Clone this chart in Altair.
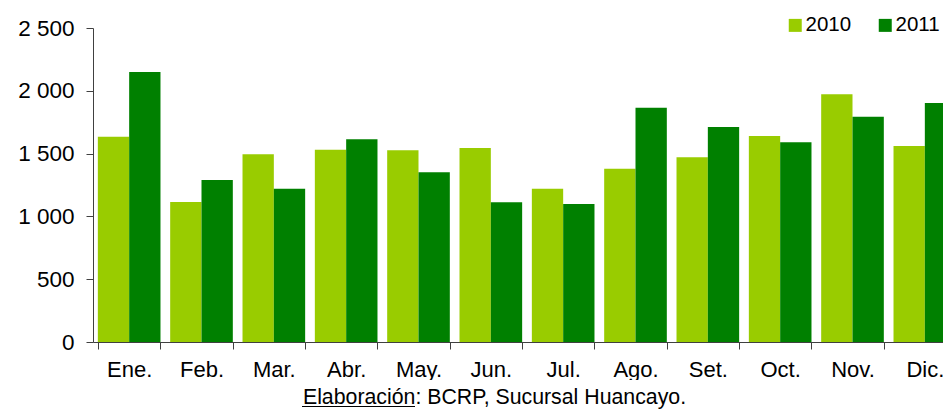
import altair as alt
import pandas as pd

months = ["Ene.", "Feb.", "Mar.", "Abr.", "May.", "Jun.", "Jul.", "Ago.", "Set.", "Oct.", "Nov.", "Dic."]
years = ["2010", "2011"]
v2010 = [1635, 1115, 1494, 1531, 1526, 1545, 1221, 1380, 1470, 1640, 1972, 1561]
v2011 = [2150, 1290, 1221, 1614, 1351, 1112, 1099, 1866, 1712, 1590, 1794, 1903]
colors = ["#99CC00", "#008000"]
y_ticks = [0, 500, 1000, 1500, 2000, 2500]
footnote_label = "Elaboración"
footnote_rest = ": BCRP, Sucursal Huancayo."

rows = []
for m, a, b in zip(months, v2010, v2011):
    rows.append({"Mes": m, "Año": years[0], "Valor": a})
    rows.append({"Mes": m, "Año": years[1], "Valor": b})
df = pd.DataFrame(rows)

FONT = "Liberation Sans"

bars = alt.Chart(df).mark_bar().encode(
    x=alt.X(
        "Mes:N",
        sort=months,
        scale=alt.Scale(range=[0, 868], paddingInner=0.134, paddingOuter=0.067),
        axis=alt.Axis(
            title=None, labelAngle=0, tickBand="extent", tickSize=7,
            labelFontSize=22, labelPadding=10, labelColor="#000000",
            domainColor="#404040", tickColor="#404040", labelFont=FONT,
            zindex=0,
        ),
    ),
    xOffset=alt.XOffset("Año:N", sort=years, scale=alt.Scale(paddingInner=0, paddingOuter=0)),
    y=alt.Y(
        "Valor:Q",
        scale=alt.Scale(domain=[0, 2500]),
        axis=alt.Axis(
            title=None, values=y_ticks, grid=False, tickSize=7,
            labelFontSize=22.5, labelPadding=12, labelColor="#000000",
            domainColor="#404040", tickColor="#404040", labelFont=FONT,
            labelExpr="replace(format(datum.value, ','), ',', ' ')",
            zindex=0,
        ),
    ),
    color=alt.Color(
        "Año:N",
        scale=alt.Scale(domain=years, range=colors),
        legend=alt.Legend(
            title=None, orient="none", legendX=692, legendY=-13,
            direction="horizontal", symbolType="square", symbolSize=169,
            symbolStrokeWidth=0, symbolOpacity=1, labelFontSize=20.5,
            labelFont=FONT, labelColor="#000000", labelOffset=0, columnPadding=23,
        ),
    ),
)

note_df = pd.DataFrame({"a": [footnote_label], "b": [footnote_label + footnote_rest]})

cover = alt.Chart(note_df).mark_rect(color="white").encode(
    x=alt.value(-93), x2=alt.value(870), y=alt.value(352), y2=alt.value(390)
)

note = alt.Chart(note_df).mark_text(
    font=FONT, fontSize=21.3, align="center", baseline="alphabetic", color="#000000"
).encode(text="b:N", x=alt.value(401.5), y=alt.value(376))

underline = alt.Chart(note_df).mark_rule(color="#000000", strokeWidth=1).encode(
    x=alt.value(209), x2=alt.value(322), y=alt.value(378.5)
)

chart = alt.layer(bars, cover, note, underline).properties(
    width=850, height=314,
    autosize=alt.AutoSizeParams(type="none"),
    padding={"left": 85, "top": 20, "right": 0, "bottom": 67},
).configure(font=FONT).configure_view(stroke=None)

chart.save("out.html", embed_options={"renderer": "svg", "actions": False})
